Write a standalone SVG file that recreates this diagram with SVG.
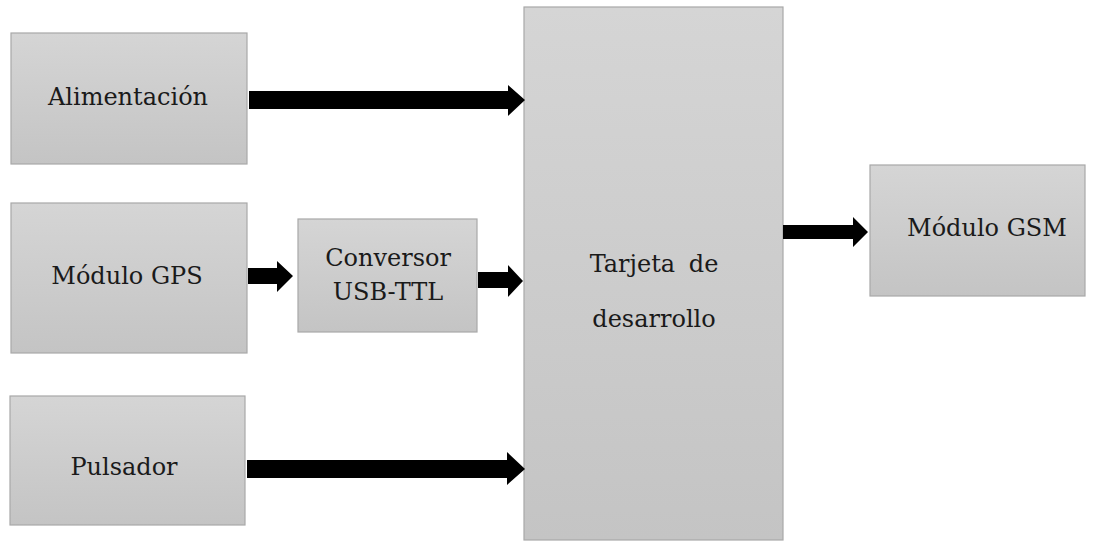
<svg xmlns="http://www.w3.org/2000/svg" width="1097" height="548" viewBox="0 0 1097 548">
<defs>
<linearGradient id="g" x1="0" y1="0" x2="0" y2="1">
<stop offset="0" stop-color="#d5d5d5"/>
<stop offset="1" stop-color="#c4c4c4"/>
</linearGradient>
<style>
.box{fill:url(#g);stroke:#a8a8a8;stroke-width:1.2}
.t{font-family:'DejaVu Serif',serif;font-size:24px;fill:#1a1a1a;text-anchor:middle}
.a{fill:#000}
</style>
</defs>
<rect width="1097" height="548" fill="#fff"/>
<g id="alimentacion"><rect class="box" x="11" y="33" width="236" height="131"/><text class="t" x="128" y="105">Alimentación</text></g>
<g id="gps"><rect class="box" x="11" y="203" width="236" height="150"/><text class="t" x="127" y="284">Módulo GPS</text></g>
<g id="pulsador"><rect class="box" x="10" y="396" width="235" height="129"/><text class="t" x="124" y="475">Pulsador</text></g>
<g id="conversor"><rect class="box" x="298" y="219" width="179" height="113"/><text class="t" x="388" y="266">Conversor</text><text class="t" x="388" y="300">USB-TTL</text></g>
<g id="tarjeta"><rect class="box" x="524" y="7" width="259" height="533"/><text class="t" x="654" y="272" word-spacing="6">Tarjeta de</text><text class="t" x="654" y="327">desarrollo</text></g>
<g id="gsm"><rect class="box" x="870" y="165" width="215" height="131"/><text class="t" x="987" y="236">Módulo GSM</text></g>
<g id="connectors">
<polygon class="a" points="249,91 508,91 508,85 525,100 508,116 508,109 249,109"/>
<polygon class="a" points="248,268 277,268 277,261 293,276 277,292 277,284 248,284"/>
<polygon class="a" points="478,272 508,272 508,265 523,281 508,297 508,288 478,288"/>
<polygon class="a" points="247,460 507,460 507,452 525,469 507,485 507,478 247,478"/>
<polygon class="a" points="783,225 853,225 853,217 868,232 853,247 853,239 783,239"/>
</g>
</svg>
